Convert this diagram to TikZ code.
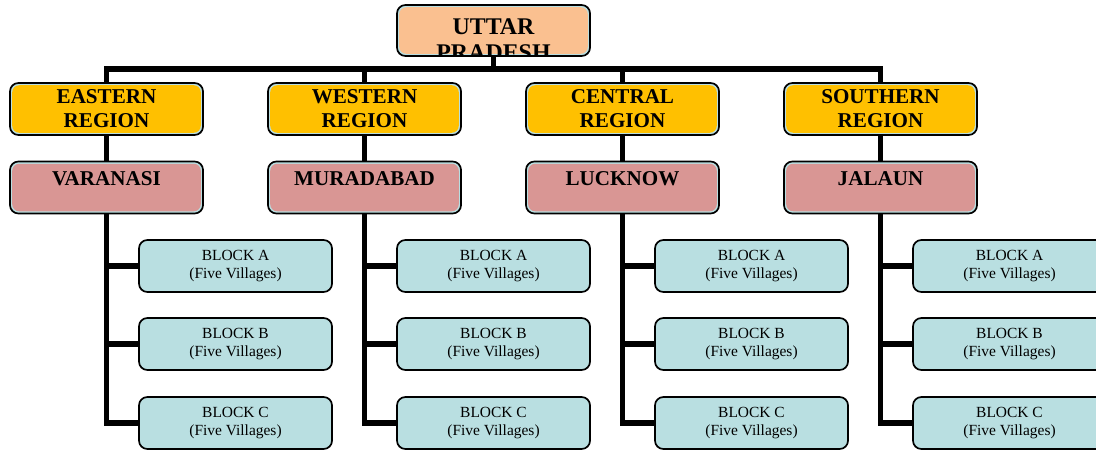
\documentclass[tikz,border=0pt]{standalone}
\usepackage{fontspec}
\setmainfont{Liberation Serif}
\usetikzlibrary{backgrounds}
\definecolor{peach}{HTML}{FAC090}
\definecolor{regyellow}{HTML}{FFC000}
\definecolor{distpink}{HTML}{D99694}
\definecolor{blockblue}{HTML}{B9DFE1}
\newcommand\topfont{\fontsize{17pt}{18.5pt}\selectfont\bfseries}
\newcommand\regfont{\fontsize{15pt}{17pt}\selectfont\bfseries}
\newcommand\blkfont{\fontsize{11pt}{12.5pt}\selectfont}
\tikzset{
    box/.style={rounded corners=6pt, draw=black, line width=1.2pt, fill=blockblue,
        minimum width=4.825cm, minimum height=1.3cm, inner sep=0pt, align=center,
        path picture={\fill[#1, rounded corners=5pt]
            ([shift={(1.6pt,-1.6pt)}]path picture bounding box.north west) rectangle
            ([shift={(-1.6pt,1.6pt)}]path picture bounding box.south east);}},
    distbox/.style={box=distpink, font=\regfont, text height=16.4pt, text depth=19.9pt},
    link/.style={line width=3.9pt, line cap=rect, draw=black}
}
\begin{document}
\begin{tikzpicture}[x=0.025cm, y=-0.025cm]
    \useasboundingbox (0,0) rectangle (1096,449);
    \clip (0,0) rectangle (1096,449);

    % state
    \node[box=peach, minimum height=1.275cm] (up) at (493.5,30.5) {};
    \begin{scope}
        \clip ([shift={(1.6pt,1.6pt)}]up.south west) rectangle ([shift={(-1.6pt,-1.6pt)}]up.north east);
        \node[font=\topfont, align=center] (uptext) at (493.5,39.5) {UTTAR\\PRADESH};
    \end{scope}

    % regions, districts, blocks
    \foreach \i/\reg/\dist in {1/EASTERN/VARANASI, 2/WESTERN/MURADABAD,
                               3/CENTRAL/LUCKNOW, 4/SOUTHERN/JALAUN}{
        \pgfmathsetmacro\cx{106.5+258*(\i-1)}
        \node[box=regyellow, font=\regfont] (reg\i) at (\cx,109) {\reg\\REGION};
        \node[distbox] (dist\i) at (\cx,187.5) {\dist};
        \foreach \b/\y in {A/266, B/344, C/423}
            \node[box=blockblue, font=\blkfont] (blk\i\b) at (\cx+129,\y) {BLOCK \b\\(Five Villages)};
    }

    % connectors
    \begin{scope}[on background layer]
        \coordinate (bar) at (493.5,69);
        \draw[link] (up) -- (bar);
        \draw[link] (reg1.center |- bar) -- (reg4.center |- bar);
        \foreach \i in {1,...,4}{
            \draw[link] (reg\i.center |- bar) |- (blk\i C.west);
            \draw[link] (blk\i A.west -| reg\i.center) -- (blk\i A.west);
            \draw[link] (blk\i B.west -| reg\i.center) -- (blk\i B.west);
        }
    \end{scope}
\end{tikzpicture}
\end{document}
